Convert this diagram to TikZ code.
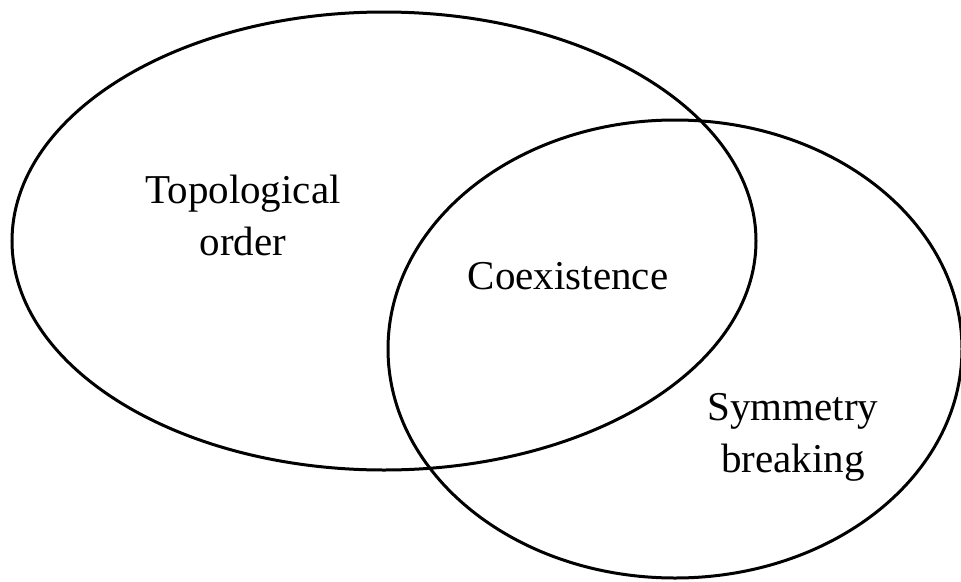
\documentclass[tikz,border=0pt]{standalone}
\usepackage{fontspec}
\setmainfont{Liberation Serif}
\begin{document}
\begin{tikzpicture}[x=1pt,y=-1pt,
  ring/.style={draw=black,line width=3pt},
  lbl/.style={font=\fontsize{41}{52}\selectfont,align=center,inner sep=0pt}]
\useasboundingbox (0,0) rectangle (961,581);
\draw[ring] (384,241) ellipse [x radius=372, y radius=229];
\draw[ring] (675,349) ellipse [x radius=287, y radius=229];
\node[lbl] (topo) at (243,215) {Topological\\order};
\node[lbl] (coex) at (568,276) {Coexistence};
\node[lbl] (sym) at (793,437) {Symmetry\\breaking};
\end{tikzpicture}
\end{document}
